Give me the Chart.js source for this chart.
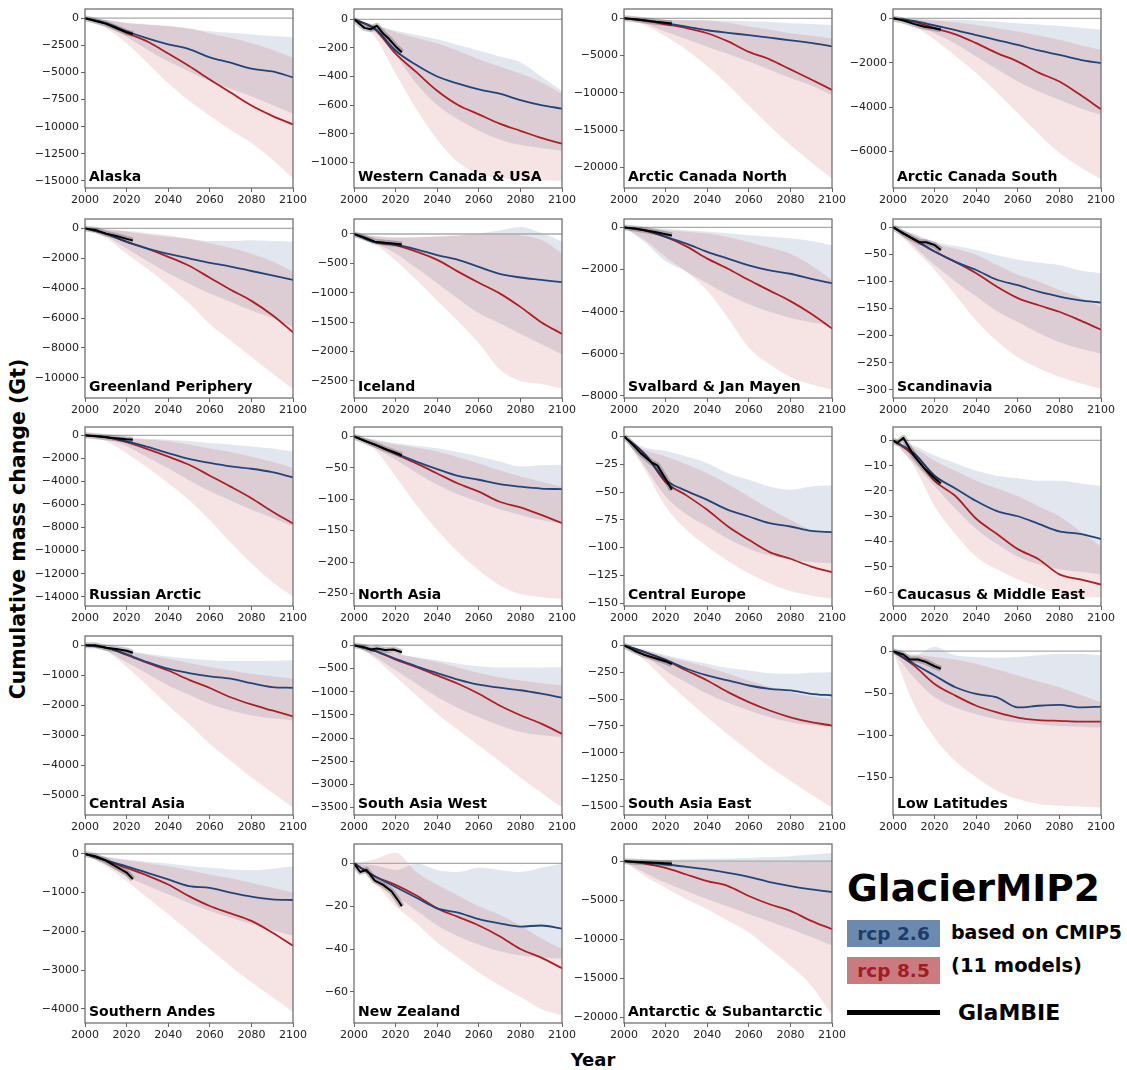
<!DOCTYPE html>
<html lang="en">
<head>
<meta charset="UTF-8">
<title>GlacierMIP2 regional mass change</title>
<script src="https://cdn.jsdelivr.net/npm/chart.js"></script>
<style>
  body {
    margin: 0;
    width: 1127px;
    height: 1070px;
    position: relative;
    overflow: hidden;
    background: #fff;
    font-family: 'DejaVu Sans', sans-serif;
    color: #000;
  }
  canvas { position: absolute; }
  .txt {
    position: absolute;
    font-weight: bold;
    line-height: 1;
    white-space: nowrap;
  }
  #ylabel {
    left: 18px;
    top: 529px;
    font-size: 20.5px;
    transform: translate(-50%, -50%) rotate(-90deg);
  }
  #xlabel { left: 593px; top: 1051px; font-size: 18px; transform: translateX(-50%); }
  #title { left: 847px; top: 870px; font-size: 37.5px; }
  .box {
    position: absolute;
    left: 847px;
    width: 93px;
    height: 27px;
    display: flex;
    align-items: center;
    justify-content: center;
    font-weight: bold;
    font-size: 18.5px;
  }
  #box26 { top: 920px; background: #6c8aae; color: #1d3c6b; }
  #box85 { top: 957px; background: #c97b80; color: #a31c24; }
  #cmip { left: 951px; top: 923px; font-size: 19px; }
  #models { left: 951px; top: 956px; font-size: 19.5px; }
  #glline { position: absolute; left: 847px; top: 1010px; width: 93px; height: 5px; background: #000; }
  #glambie { left: 958px; top: 1002px; font-size: 22px; }
</style>
</head>
<body>

<div class="txt" id="ylabel">Cumulative mass change (Gt)</div>
<div class="txt" id="xlabel">Year</div>
<div class="txt" id="title">GlacierMIP2</div>
<div class="box" id="box26">rcp 2.6</div>
<div class="box" id="box85">rcp 8.5</div>
<div class="txt" id="cmip">based on CMIP5</div>
<div class="txt" id="models">(11 models)</div>
<div id="glline"></div>
<div class="txt" id="glambie">GlaMBIE</div>

<script>
// decadal samples of the projections (Gt, relative to 2000)
const years = [2000, 2010, 2020, 2030, 2040, 2050, 2060, 2070, 2080, 2090, 2100];

const regions = [
  'Alaska', 'Western Canada & USA', 'Arctic Canada North', 'Arctic Canada South',
  'Greenland Periphery', 'Iceland', 'Svalbard & Jan Mayen', 'Scandinavia',
  'Russian Arctic', 'North Asia', 'Central Europe', 'Caucasus & Middle East',
  'Central Asia', 'South Asia West', 'South Asia East', 'Low Latitudes',
  'Southern Andes', 'New Zealand', 'Antarctic & Subantarctic'
];

// multi-model median, rcp 2.6
const rcp26 = [
  [0, -450, -1200, -1850, -2400, -2850, -3600, -4100, -4650, -4900, -5450],
  [0, -65, -220, -320, -400, -450, -490, -520, -565, -600, -625],
  [0, -250, -650, -1100, -1600, -1950, -2250, -2600, -2950, -3300, -3750],
  [0, -120, -320, -530, -760, -980, -1200, -1450, -1650, -1870, -2020],
  [0, -350, -900, -1350, -1700, -2000, -2300, -2550, -2850, -3150, -3450],
  [0, -140, -180, -260, -360, -440, -560, -680, -740, -780, -820],
  [0, -130, -450, -770, -1160, -1480, -1800, -2040, -2200, -2440, -2650],
  [0, -22, -45, -64, -79, -97, -107, -119, -128, -135, -139],
  [0, -150, -520, -1000, -1550, -2050, -2400, -2700, -2900, -3200, -3650],
  [0, -13, -27, -40, -52, -63, -69, -76, -80, -83, -84],
  [0, -16, -39, -49, -57, -66, -72, -78, -81, -85, -86],
  [0, -5, -14, -19, -24, -28, -30, -33, -36, -37, -39],
  [0, -80, -300, -560, -780, -925, -1035, -1110, -1260, -1390, -1415],
  [0, -120, -290, -455, -600, -740, -850, -915, -970, -1045, -1130],
  [0, -62, -134, -218, -280, -327, -374, -405, -420, -451, -467],
  [0, -15, -29, -43, -51, -55, -67, -65, -64, -67, -66],
  [0, -165, -320, -490, -660, -830, -875, -1000, -1105, -1175, -1190],
  [0, -6, -11, -16, -21, -23, -26, -28, -29.5, -29, -30.5],
  [0, -210, -420, -720, -1060, -1480, -2000, -2670, -3180, -3600, -3940]
];

// multi-model median, rcp 8.5
const rcp85 = [
  [0, -500, -1350, -2150, -3250, -4400, -5650, -6850, -8050, -9000, -9800],
  [0, -70, -240, -370, -500, -600, -665, -730, -780, -830, -870],
  [0, -300, -800, -1300, -2000, -3100, -4500, -5500, -6850, -8200, -9600],
  [0, -150, -450, -720, -1120, -1570, -1950, -2450, -2850, -3450, -4100],
  [0, -350, -900, -1350, -1900, -2500, -3300, -4100, -4850, -5800, -6950],
  [0, -140, -190, -300, -440, -640, -830, -1010, -1240, -1500, -1700],
  [0, -150, -450, -900, -1480, -1960, -2500, -3000, -3500, -4100, -4800],
  [0, -23, -45, -64, -85, -110, -131, -144, -156, -172, -189],
  [0, -150, -600, -1200, -1850, -2550, -3500, -4450, -5450, -6600, -7650],
  [0, -13, -28, -43, -59, -75, -88, -104, -113, -125, -138],
  [0, -16, -41, -53, -66, -81, -93, -104, -110, -117, -122],
  [0, -6, -16, -22, -31, -37, -43, -47, -53, -55, -57],
  [0, -80, -320, -590, -840, -1150, -1420, -1730, -1970, -2170, -2370],
  [0, -120, -310, -470, -650, -830, -1045, -1300, -1510, -1690, -1910],
  [0, -62, -140, -234, -327, -436, -529, -607, -670, -716, -747],
  [0, -17, -39, -53, -65, -73, -79, -82, -83, -84, -84],
  [0, -165, -360, -560, -790, -1090, -1345, -1535, -1730, -2030, -2375],
  [0, -6, -10, -15, -21, -25, -29, -34, -40, -44, -49],
  [0, -300, -850, -1700, -2540, -3180, -4450, -5510, -6360, -7630, -8690]
];

// model spread, rcp 2.6 (upper / lower edge)
const rcp26Hi = [
  [0, -150, -450, -600, -750, -950, -1200, -1350, -1500, -1650, -1750],
  [0, -40, -80, -110, -140, -180, -220, -260, -300, -400, -500],
  [0, -100, -200, -200, -250, -300, -400, -500, -650, -750, -900],
  [0, -20, -50, -70, -100, -160, -220, -280, -340, -430, -520],
  [0, -50, -200, -400, -550, -700, -850, -850, -800, -850, -900],
  [0, -40, -50, -50, -45, -30, 10, 60, 120, 20, -130],
  [0, -20, -60, -130, -200, -280, -370, -440, -520, -650, -850],
  [0, -12, -27, -35, -42, -52, -60, -65, -70, -80, -85],
  [0, -50, -200, -300, -380, -500, -670, -800, -960, -1150, -1400],
  [0, -5, -11, -15, -19, -25, -32, -40, -48, -46, -45],
  [0, -10, -13, -18, -24, -33, -39, -45, -48, -45, -44],
  [0, -2, -6, -9, -12, -14, -15, -16, -16, -17, -18],
  [0, -50, -170, -280, -370, -450, -500, -520, -520, -510, -500],
  [0, -60, -180, -260, -325, -400, -455, -480, -480, -480, -470],
  [0, -40, -93, -135, -171, -210, -234, -260, -265, -255, -250],
  [0, -5, 5, -5, -7, -8, -7, -5, -3, -3, -5],
  [0, -70, -145, -200, -250, -310, -360, -400, -420, -380, -320],
  [0, -1, -3, 0, -3, -4, -2, -3, -4, -2, 0],
  [0, 100, 200, 250, 300, 350, 420, 500, 640, 850, 1050]
];
const rcp26Lo = [
  [0, -700, -1700, -2900, -4000, -4900, -5800, -6500, -7200, -8000, -8800],
  [0, -90, -250, -450, -600, -700, -780, -840, -880, -900, -920],
  [0, -700, -1800, -2800, -3800, -4800, -5800, -6900, -8000, -9000, -10300],
  [0, -250, -670, -1150, -1720, -2300, -2850, -3300, -3670, -4050, -4350],
  [0, -500, -1350, -2200, -3000, -3700, -4350, -4900, -5500, -6000, -6600],
  [0, -150, -330, -580, -840, -1100, -1350, -1520, -1700, -1870, -2050],
  [0, -700, -1600, -2100, -2650, -3200, -3650, -4000, -4300, -4500, -4650],
  [0, -35, -70, -100, -128, -155, -175, -195, -212, -224, -233],
  [0, -300, -950, -1900, -2850, -3900, -4850, -5650, -6450, -7150, -7900],
  [0, -18, -37, -58, -77, -92, -104, -116, -125, -133, -139],
  [0, -27, -54, -70, -81, -92, -101, -107, -111, -113, -114],
  [0, -9, -18, -27, -35, -41, -46, -49, -51, -52, -53],
  [0, -180, -560, -950, -1340, -1650, -1950, -2170, -2340, -2430, -2500],
  [0, -240, -540, -830, -1115, -1350, -1550, -1730, -1870, -1940, -1980],
  [0, -100, -234, -345, -451, -535, -607, -670, -716, -745, -763],
  [0, -31, -55, -67, -75, -81, -85, -87, -89, -90, -91],
  [0, -280, -575, -820, -1045, -1270, -1475, -1650, -1815, -1970, -2115],
  [0, -7, -15, -22, -29, -34, -38, -41, -43, -44, -44.6],
  [0, -1480, -2750, -3800, -4870, -5800, -6780, -7700, -8690, -9700, -10800]
];

// model spread, rcp 8.5 (upper / lower edge)
const rcp85Hi = [
  [0, -150, -450, -550, -700, -950, -1400, -1800, -2300, -2900, -3650],
  [0, -40, -90, -130, -170, -220, -280, -330, -380, -440, -520],
  [0, -100, -200, -250, -300, -600, -1100, -1500, -2000, -2300, -2700],
  [0, -30, -100, -180, -300, -450, -600, -780, -970, -1200, -1420],
  [0, -50, -150, -300, -450, -700, -1000, -1300, -1700, -2200, -2900],
  [0, -40, -70, -60, -40, -20, -10, -5, -20, -100, -330],
  [0, -30, -130, -200, -290, -450, -690, -950, -1250, -1800, -2500],
  [0, -14, -30, -40, -51, -70, -88, -100, -116, -130, -147],
  [0, -60, -230, -370, -520, -800, -1150, -1450, -1850, -2300, -2850],
  [0, -6, -13, -18, -24, -33, -43, -54, -64, -72, -80],
  [0, -12, -18, -25, -33, -43, -54, -65, -75, -84, -87],
  [0, -3, -8, -12, -16, -19, -22, -26, -30, -36, -42],
  [0, -60, -190, -320, -450, -590, -720, -840, -950, -1030, -1110],
  [0, -60, -180, -270, -360, -480, -600, -690, -760, -820, -865],
  [0, -45, -103, -150, -202, -265, -327, -385, -436, -475, -500],
  [0, -4, -7, -10, -15, -22, -29, -36, -43, -52, -61],
  [0, -80, -165, -240, -320, -420, -530, -630, -745, -870, -1000],
  [0, 2, 5, -4, -10, -15, -20, -24, -29, -35, -40],
  [0, -50, -80, -100, -100, -100, -100, -80, -50, 0, 100]
];
const rcp85Lo = [
  [0, -900, -2300, -4100, -6000, -7600, -9000, -10300, -11500, -13000, -14800],
  [0, -120, -380, -630, -840, -1000, -1080, -1110, -1120, -1125, -1130],
  [0, -900, -2400, -4200, -6400, -8900, -11700, -14400, -17000, -19300, -21500],
  [0, -350, -970, -1700, -2470, -3350, -4270, -5200, -6060, -6700, -7250],
  [0, -600, -1700, -2700, -3800, -5000, -6400, -7500, -8600, -9700, -10750],
  [0, -170, -450, -780, -1130, -1480, -1860, -2300, -2500, -2550, -2630],
  [0, -600, -1400, -2100, -3000, -4300, -5700, -6500, -7100, -7450, -7700],
  [0, -40, -79, -125, -172, -210, -240, -260, -276, -288, -298],
  [0, -500, -1550, -2800, -4150, -5600, -7350, -9300, -11100, -12700, -14000],
  [0, -21, -64, -109, -149, -184, -213, -237, -251, -256, -259],
  [0, -30, -63, -84, -99, -112, -123, -132, -139, -143, -146],
  [0, -10, -26, -37, -46, -51, -55, -58, -61, -62, -62],
  [0, -170, -720, -1340, -2000, -2610, -3290, -3840, -4400, -4900, -5400],
  [0, -280, -680, -1080, -1480, -1820, -2160, -2500, -2850, -3180, -3500],
  [0, -140, -327, -500, -670, -830, -981, -1130, -1260, -1390, -1510],
  [0, -63, -103, -131, -150, -166, -176, -182, -184, -185, -186],
  [0, -320, -700, -1130, -1560, -2000, -2460, -2900, -3315, -3700, -4090],
  [0, -9, -20, -28, -37, -44, -51, -57, -62.5, -68, -71],
  [0, -1900, -3390, -4870, -6140, -7630, -9120, -11240, -13350, -15900, -19700]
];

// GlaMBIE observations 2000-2023
const glambieYears = [
  [2000, 2005, 2010, 2015, 2020, 2023],
  [2000, 2005, 2008, 2011, 2014, 2017, 2020, 2023],
  [2000, 2005, 2010, 2015, 2020, 2023],
  [2000, 2005, 2010, 2015, 2020, 2023],
  [2000, 2005, 2010, 2015, 2020, 2023],
  [2000, 2005, 2010, 2015, 2020, 2023],
  [2000, 2005, 2010, 2015, 2020, 2023],
  [2000, 2005, 2010, 2013, 2016, 2020, 2023],
  [2000, 2005, 2010, 2015, 2020, 2023],
  [2000, 2005, 2010, 2015, 2020, 2023],
  [2000, 2003, 2008, 2013, 2016, 2020, 2023],
  [2000, 2002, 2005, 2010, 2015, 2020, 2023],
  [2000, 2005, 2010, 2015, 2020, 2023],
  [2000, 2005, 2008, 2011, 2015, 2019, 2023],
  [2000, 2005, 2010, 2015, 2020, 2023],
  [2000, 2005, 2008, 2012, 2016, 2020, 2023],
  [2000, 2005, 2010, 2015, 2020, 2023],
  [2000, 2003, 2006, 2010, 2014, 2018, 2021, 2023],
  [2000, 2005, 2010, 2015, 2020, 2023]
];
const glambieMass = [
  [0, -250, -500, -900, -1300, -1450],
  [0, -60, -70, -45, -100, -140, -190, -230],
  [0, -120, -300, -450, -600, -700],
  [0, -100, -250, -380, -450, -500],
  [0, -100, -350, -500, -700, -800],
  [0, -60, -130, -150, -165, -180],
  [0, -50, -130, -220, -320, -380],
  [0, -12, -22, -28, -28, -33, -42],
  [0, -80, -160, -250, -340, -380],
  [0, -7, -13, -20, -26, -30],
  [0, -5, -15, -23, -26, -38, -48],
  [0, -1, 1, -6, -11, -15, -17],
  [0, 0, -80, -120, -180, -250],
  [0, -40, -90, -70, -100, -90, -150],
  [0, -50, -90, -120, -150, -175],
  [0, -4, -10, -10, -13, -18, -21],
  [0, -60, -170, -330, -480, -650],
  [0, -4, -3, -8, -10, -13, -17, -20],
  [0, -80, -150, -200, -250, -300]
];

// y-axis extent and tick labels per region
const yRange = [
  [-15650, 850], [-1180, 72], [-22750, 1250], [-7650, 420],
  [-11350, 630], [-2790, 255], [-8100, 400], [-315, 15],
  [-14800, 720], [-270, 15], [-152.5, 8.5], [-65.5, 5.3],
  [-5650, 310], [-3660, 200], [-1580, 87], [-195, 18],
  [-4370, 257], [-74.6, 9.1], [-20700, 2200]
];
const yTicks = [
  [-15000, -12500, -10000, -7500, -5000, -2500, 0],
  [-1000, -800, -600, -400, -200, 0],
  [-20000, -15000, -10000, -5000, 0],
  [-6000, -4000, -2000, 0],
  [-10000, -8000, -6000, -4000, -2000, 0],
  [-2500, -2000, -1500, -1000, -500, 0],
  [-8000, -6000, -4000, -2000, 0],
  [-300, -250, -200, -150, -100, -50, 0],
  [-14000, -12000, -10000, -8000, -6000, -4000, -2000, 0],
  [-250, -200, -150, -100, -50, 0],
  [-150, -125, -100, -75, -50, -25, 0],
  [-60, -50, -40, -30, -20, -10, 0],
  [-5000, -4000, -3000, -2000, -1000, 0],
  [-3500, -3000, -2500, -2000, -1500, -1000, -500, 0],
  [-1500, -1250, -1000, -750, -500, -250, 0],
  [-150, -100, -50, 0],
  [-4000, -3000, -2000, -1000, 0],
  [-60, -40, -20, 0],
  [-20000, -15000, -10000, -5000, 0]
];

const BLUE = '#21457a';
const RED = '#ad1f24';
const BLUE_BAND = 'rgba(60, 90, 140, 0.15)';
const RED_BAND = 'rgba(185, 40, 50, 0.13)';
const AXIS = '#666';

// plot-area origins of the 4 x 5 grid
const colLeft = [85, 354, 624, 893];
const rowTop = [9, 219, 427, 636, 844];
const PAD_L = 70, PAD_T = 10, PAD_R = 22, PAD_B = 24;
const PLOT_W = 208, PLOT_H = 179;

Chart.defaults.font.family = "'DejaVu Sans', sans-serif";
Chart.defaults.font.size = 11;
Chart.defaults.color = '#222';

function pts(xs, ys) {
  return xs.map((x, k) => ({ x: x, y: ys[k] }));
}

function fmt(v) {
  return v < 0 ? '\u2212' + Math.abs(v) : String(v);
}

// frame around the plot area and the region name in the lower-left corner
const panelDecor = {
  id: 'panelDecor',
  afterDraw(chart, args, opts) {
    const a = chart.chartArea;
    const ctx = chart.ctx;
    ctx.save();
    ctx.strokeStyle = AXIS;
    ctx.lineWidth = 1.2;
    ctx.strokeRect(a.left, a.top, a.right - a.left, a.bottom - a.top);
    ctx.fillStyle = '#000';
    ctx.font = "bold 14px 'DejaVu Sans'";
    ctx.textBaseline = 'alphabetic';
    ctx.fillText(opts.name, a.left + 4, a.bottom - 7);
    ctx.restore();
  }
};

regions.forEach((name, i) => {
  const cv = document.createElement('canvas');
  cv.width = PAD_L + PLOT_W + PAD_R;
  cv.height = PAD_T + PLOT_H + PAD_B;
  cv.style.left = (colLeft[i % 4] - PAD_L) + 'px';
  cv.style.top = (rowTop[Math.floor(i / 4)] - PAD_T) + 'px';
  document.body.appendChild(cv);

  const obs = pts(glambieYears[i], glambieMass[i]);

  new Chart(cv, {
    type: 'line',
    data: {
      datasets: [
        { data: obs, borderColor: '#000', borderWidth: 2 },
        { data: obs, borderColor: 'rgba(0,0,0,0.22)', borderWidth: 6 },
        { data: pts(years, rcp26[i]), borderColor: BLUE, borderWidth: 1.8, cubicInterpolationMode: 'monotone' },
        { data: pts(years, rcp85[i]), borderColor: RED, borderWidth: 1.8, cubicInterpolationMode: 'monotone' },
        { data: [{ x: 2000, y: 0 }, { x: 2100, y: 0 }], borderColor: '#aaa', borderWidth: 1.3 },
        { data: pts(years, rcp85Hi[i]), borderWidth: 0, borderColor: 'transparent',
          backgroundColor: RED_BAND, fill: '+1', cubicInterpolationMode: 'monotone' },
        { data: pts(years, rcp85Lo[i]), borderWidth: 0, borderColor: 'transparent',
          fill: false, cubicInterpolationMode: 'monotone' },
        { data: pts(years, rcp26Hi[i]), borderWidth: 0, borderColor: 'transparent',
          backgroundColor: BLUE_BAND, fill: '+1', cubicInterpolationMode: 'monotone' },
        { data: pts(years, rcp26Lo[i]), borderWidth: 0, borderColor: 'transparent',
          fill: false, cubicInterpolationMode: 'monotone' }
      ]
    },
    options: {
      responsive: false,
      animation: false,
      events: [],
      layout: { padding: { left: 0, top: PAD_T, right: PAD_R, bottom: 0 } },
      elements: { point: { radius: 0 }, line: { borderJoinStyle: 'round' } },
      scales: {
        x: {
          type: 'linear',
          min: 2000,
          max: 2100,
          afterFit: s => { s.height = PAD_B; },
          ticks: { stepSize: 20, padding: 2, maxRotation: 0, autoSkip: false, callback: v => String(v) },
          grid: { drawOnChartArea: false, tickLength: 4, color: AXIS },
          border: { display: false }
        },
        y: {
          type: 'linear',
          min: yRange[i][0],
          max: yRange[i][1],
          afterFit: s => { s.width = PAD_L; },
          afterBuildTicks: s => { s.ticks = yTicks[i].map(v => ({ value: v })); },
          ticks: { padding: 2, autoSkip: false, callback: v => fmt(v) },
          grid: { drawOnChartArea: false, tickLength: 4, color: AXIS },
          border: { display: false }
        }
      },
      plugins: {
        legend: { display: false },
        tooltip: { enabled: false },
        filler: { drawTime: 'beforeDatasetsDraw' },
        panelDecor: { name: name }
      }
    },
    plugins: [panelDecor]
  });
});
</script>

</body>
</html>
